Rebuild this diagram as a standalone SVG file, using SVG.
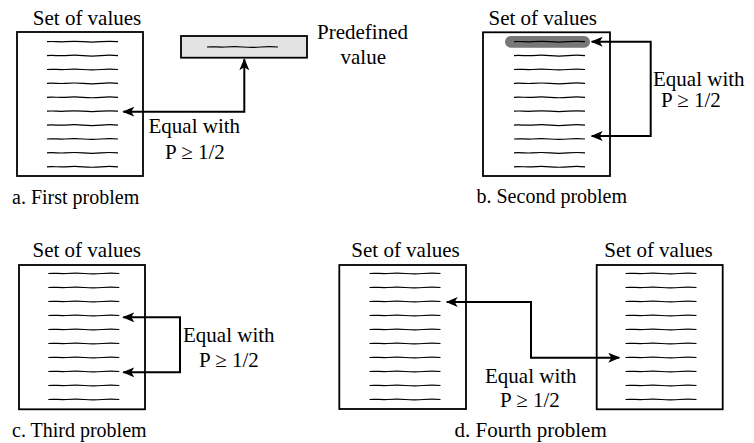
<svg xmlns="http://www.w3.org/2000/svg" xmlns:xlink="http://www.w3.org/1999/xlink" width="754" height="443" viewBox="0 0 754 443">
<style>
.box{fill:#fff;stroke:#000;stroke-width:1.8}
.wl{fill:none;stroke:#000;stroke-width:1.2}
.conn{fill:none;stroke:#000;stroke-width:2}
</style>
<defs>
<path id="w" class="wl" d="M0,0 c6,-0.7 12,0.5 18,0 s12,-0.6 18,0 s12,0.6 18,0 s11,-0.6 17,0"/>
<g id="list">
<use xlink:href="#w" y="0"/><use xlink:href="#w" y="13.9"/><use xlink:href="#w" y="27.8"/><use xlink:href="#w" y="41.7"/><use xlink:href="#w" y="55.6"/><use xlink:href="#w" y="69.5"/><use xlink:href="#w" y="83.4"/><use xlink:href="#w" y="97.3"/><use xlink:href="#w" y="111.2"/><use xlink:href="#w" y="125.1"/>
</g>
<g id="list2">
<use xlink:href="#w" y="0"/><use xlink:href="#w" y="14"/><use xlink:href="#w" y="28"/><use xlink:href="#w" y="42"/><use xlink:href="#w" y="56"/><use xlink:href="#w" y="70"/><use xlink:href="#w" y="84"/><use xlink:href="#w" y="98"/><use xlink:href="#w" y="112"/><use xlink:href="#w" y="126"/>
</g>
<marker id="ah" markerUnits="userSpaceOnUse" markerWidth="12" markerHeight="10" viewBox="0 0 12 10" refX="11" refY="5" orient="auto-start-reverse">
<path d="M0,0 L12,5 L0,10 L3,5 z" fill="#000"/>
</marker>
</defs>

<g id="a-set">
<text x="32.8" y="24.5" font-family="Liberation Serif, serif" font-size="21">Set of values</text>
<rect class="box" x="17" y="32" width="126" height="144"/>
<use xlink:href="#list" x="47" y="41.7"/>
</g>
<g id="a-predef">
<rect x="181" y="36" width="126" height="21.7" fill="#e3e3e3" stroke="#000" stroke-width="1.8"/>
<use xlink:href="#w" x="207" y="47"/>
<text x="317" y="39.3" font-family="Liberation Serif, serif" font-size="21">Predefined</text>
<text x="340.5" y="63.5" font-family="Liberation Serif, serif" font-size="21">value</text>
</g>
<g id="a-label">
<text x="148.5" y="133.3" font-family="Liberation Serif, serif" font-size="21">Equal with</text>
<text x="165" y="158.7" font-family="Liberation Serif, serif" font-size="21">P ≥ 1/2</text>
<text x="12" y="204" font-family="Liberation Serif, serif" font-size="20">a. First problem</text>
</g>

<g id="b-set">
<text x="488.5" y="24.5" font-family="Liberation Serif, serif" font-size="21">Set of values</text>
<rect class="box" x="483" y="32.3" width="127" height="143.7"/>
<rect x="505" y="36" width="85" height="11.7" rx="5.8" fill="#777"/>
<use xlink:href="#list" x="514" y="41.7"/>
</g>
<g id="b-label">
<text x="653" y="85.7" font-family="Liberation Serif, serif" font-size="21">Equal with</text>
<text x="661" y="107" font-family="Liberation Serif, serif" font-size="21">P ≥ 1/2</text>
<text x="476.5" y="203" font-family="Liberation Serif, serif" font-size="20">b. Second problem</text>
</g>

<g id="c-set">
<text x="32.5" y="256.7" font-family="Liberation Serif, serif" font-size="21">Set of values</text>
<rect class="box" x="19" y="265" width="126" height="144.3"/>
<use xlink:href="#list2" x="48.3" y="273.5"/>
</g>
<g id="c-label">
<text x="183" y="341.7" font-family="Liberation Serif, serif" font-size="21">Equal with</text>
<text x="199" y="366.7" font-family="Liberation Serif, serif" font-size="21">P ≥ 1/2</text>
<text x="12" y="437" font-family="Liberation Serif, serif" font-size="20">c. Third problem</text>
</g>

<g id="d-set-left">
<text x="351.3" y="256.7" font-family="Liberation Serif, serif" font-size="21">Set of values</text>
<rect class="box" x="339.3" y="265" width="126.7" height="144"/>
<use xlink:href="#list2" x="369.5" y="273.5"/>
</g>
<g id="d-set-right">
<text x="604.3" y="256.7" font-family="Liberation Serif, serif" font-size="21">Set of values</text>
<rect class="box" x="596.7" y="265" width="126" height="144.3"/>
<use xlink:href="#list2" x="625.5" y="273.5"/>
</g>
<g id="d-label">
<text x="485" y="383.3" font-family="Liberation Serif, serif" font-size="21">Equal with</text>
<text x="500" y="406.7" font-family="Liberation Serif, serif" font-size="21">P ≥ 1/2</text>
<text x="454.5" y="437" font-family="Liberation Serif, serif" font-size="21">d. Fourth problem</text>
</g>

<g id="connectors">
<path class="conn" d="M123.3,111.7 H244.3 V59.3" marker-start="url(#ah)" marker-end="url(#ah)"/>
<path class="conn" d="M591.7,41.7 H650.7 V136 H591.7" marker-start="url(#ah)" marker-end="url(#ah)"/>
<path class="conn" d="M123.3,317.3 H180 V372.3 H123.3" marker-start="url(#ah)" marker-end="url(#ah)"/>
<path class="conn" d="M446.7,302 H531 V357.7 H619.3" marker-start="url(#ah)" marker-end="url(#ah)"/>
</g>
</svg>
